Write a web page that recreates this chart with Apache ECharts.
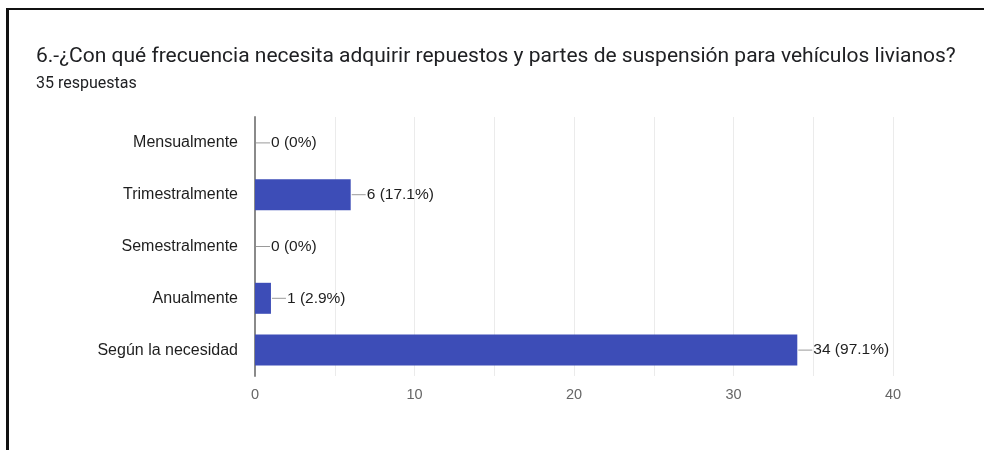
<!DOCTYPE html>
<html>
<head>
<meta charset="utf-8">
<script src="https://cdn.jsdelivr.net/npm/echarts@6/dist/echarts.min.js"></script>
<style>
    html, body { margin: 0; padding: 0; background: #fff; }
    #chart { width: 984px; height: 450px; }
</style>
</head>
<body>
<div id="chart"></div>
<script>
    const categories = ['Mensualmente', 'Trimestralmente', 'Semestralmente', 'Anualmente', 'Según la necesidad'];
    const counts = [0, 6, 0, 1, 34];
    const percents = ['0%', '17.1%', '0%', '2.9%', '97.1%'];
    const totalAnswers = 35;

    const chart = echarts.init(document.getElementById('chart'));

    chart.setOption({
        animation: false,
        title: {
            text: '6.-¿Con qué frecuencia necesita adquirir repuestos y partes de suspensión para vehículos livianos?',
            subtext: totalAnswers + ' respuestas',
            left: 31,
            top: 41,
            itemGap: 9,
            textStyle: {
                fontFamily: 'Roboto',
                fontSize: 21,
                fontWeight: 'normal',
                color: '#202124'
            },
            subtextStyle: {
                fontFamily: 'Roboto',
                fontSize: 16,
                color: '#202124'
            }
        },
        graphic: [
            // the frame around the screenshot (left and top only)
            { type: 'rect', shape: { x: 6, y: 8, width: 3, height: 442 }, style: { fill: '#111' } },
            { type: 'rect', shape: { x: 6, y: 8, width: 978, height: 2 }, style: { fill: '#111' } }
        ],
        grid: {
            left: 255,
            right: 91,
            top: 117,
            bottom: 74
        },
        xAxis: {
            type: 'value',
            min: 0,
            max: 40,
            interval: 5,
            axisLine: { show: false },
            axisTick: { show: false },
            splitLine: { lineStyle: { color: '#ebebeb', width: 1 } },
            axisLabel: {
                margin: 11,
                fontFamily: 'Liberation Sans',
                fontSize: 14.5,
                color: '#666',
                formatter: (v) => (v % 10 === 0 ? String(v) : '')
            }
        },
        yAxis: {
            type: 'category',
            inverse: true,
            data: categories,
            axisLine: { show: true, lineStyle: { color: '#8a8a8a', width: 2 } },
            axisTick: { show: false },
            axisLabel: {
                margin: 17,
                fontFamily: 'Liberation Sans',
                fontSize: 16,
                color: '#1e1e1e'
            }
        },
        series: [
            {
                type: 'bar',
                data: counts,
                barWidth: 31,
                itemStyle: { color: '#3d4db7' },
                label: {
                    show: true,
                    position: 'right',
                    distance: 1,
                    formatter: (p) => '{lead| }{txt|' + p.value + ' (' + percents[p.dataIndex] + ')}',
                    rich: {
                        lead: { width: 14, height: 1, backgroundColor: '#9a9a9a' },
                        txt: { fontFamily: 'Liberation Sans', fontSize: 15.5, color: '#1e1e1e', padding: [0, 0, 0, 1] }
                    }
                }
            }
        ]
    });
</script>
</body>
</html>
